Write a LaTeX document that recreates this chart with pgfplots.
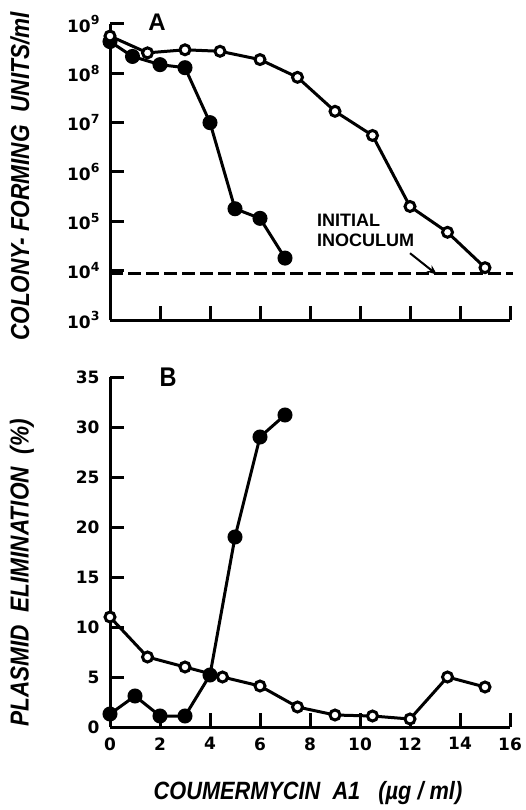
\documentclass[border=0pt]{standalone}
\usepackage{fontspec}
\setmainfont{Liberation Sans}
\newfontfamily\lblfont{Liberation Sans}[FakeStretch=0.87]
\newfontfamily\tickfont{DejaVu Sans}
\usepackage{graphicx}
\usepackage{pgfplots}
\pgfplotsset{compat=1.18}
\usetikzlibrary{arrows.meta}
\newcommand\tp[1]{10\raisebox{0.42em}{\fontsize{12.5}{12.5}\selectfont #1}}
\pgfplotsset{
  common/.style={
    scale only axis, width=400pt, xmin=0, xmax=16,
    axis x line*=bottom, axis y line*=left,
    axis line style={line width=3pt},
    tick align=inside, major tick length=14pt,
    every tick/.style={black, line width=3pt},
    xtick={0,2,...,16}, clip=false,
    /pgf/number format/assume math mode=true,
    tick label style={font=\fontsize{17}{17}\tickfont\bfseries},
    yticklabel style={xshift=-7pt},
    xticklabel style={yshift=-7pt},
  },
  filled/.style={line width=3pt, mark=*, mark size=6pt, mark options={fill=black, solid}},
  open/.style={line width=3pt, mark=*, mark size=5pt, mark options={fill=white, solid}},
}
\begin{document}
\begin{tikzpicture}
\path[use as bounding box] (0pt,0pt) rectangle (526pt,-810pt);
\begin{axis}[common,
  at={(110pt,-320pt)}, anchor=south west, height=296pt,
  ymode=log, ymin=1e3, ymax=1e9, yminorticks=false,
  xticklabels={},
  ytick={1e3,1e4,1e5,1e6,1e7,1e8,1e9},
  yticklabels={\tp3,\tp4,\tp5,\tp6,\tp7,\tp8,\tp9},
  ylabel={\fontsize{26}{26}\lblfont\bfseries\itshape COLONY- FORMING\ \ UNITS/ml},
  ylabel style={at={(axis description cs:-0.225,0.485)}, anchor=center},
]
\addplot[line width=3pt, dash pattern=on 13pt off 5pt] coordinates {(0,8.7e3) (16.1,8.7e3)};
\addplot[filled] coordinates {(0,4.4e8)(0.9,2.2e8)(2,1.5e8)(3,1.3e8)(4,1e7)(5,1.8e5)(6,1.15e5)(7,1.8e4)};
\addplot[open] coordinates {(0,5.7e8)(1.5,2.6e8)(3,3e8)(4.4,2.8e8)(6,1.9e8)(7.5,8.3e7)(9,1.7e7)(10.5,5.5e6)(12,2e5)(13.5,6e4)(15,1.15e4)};
\node[font=\fontsize{24}{24}\selectfont\bfseries] at (axis description cs:0.1175,1.007) {A};
\node[anchor=west, align=left, inner sep=0pt, font=\fontsize{18}{20}\selectfont\bfseries] at (axis cs:8.28,6.6e4) {INITIAL\\INOCULUM};
\draw[line width=2pt, -{Stealth[length=10pt,width=8pt]}] (axis cs:12,2.26e4) -- (axis cs:13.08,8.3e3);
\end{axis}
\begin{axis}[common,
  at={(110pt,-727pt)}, anchor=south west, height=350pt,
  ymin=0, ymax=35, ytick={0,5,...,35},
  ylabel={\fontsize{26}{26}\lblfont\bfseries\itshape PLASMID\ \ ELIMINATION\ \ (\%)},
  ylabel style={at={(axis description cs:-0.22,0.44)}, anchor=center},
  xlabel={\fontsize{25}{25}\lblfont\bfseries\itshape COUMERMYCIN\ \ A1\ \ \ (µg / ml)},
  xlabel style={at={(axis description cs:0.495,-0.189)}, anchor=center},
]
\addplot[filled] coordinates {(0,1.3)(1,3.1)(2,1.1)(3,1.1)(4,5.2)(5,19)(6,29)(7,31.2)};
\addplot[open] coordinates {(0,11)(1.5,7)(3,6)(4.5,5)(6,4.1)(7.5,2)(9,1.2)(10.5,1.1)(12,0.8)(13.5,5)(15,4)};
\node[font=\fontsize{27}{27}\lblfont\bfseries] at (axis description cs:0.145,1.0) {B};
\end{axis}
\end{tikzpicture}
\end{document}
